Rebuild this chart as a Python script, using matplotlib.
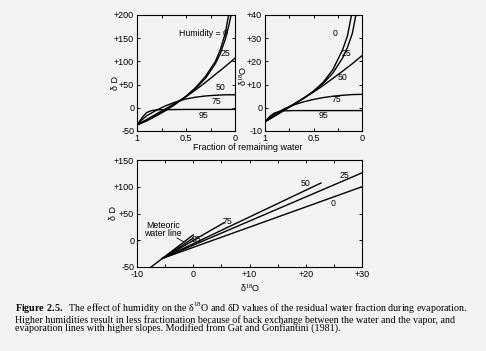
import matplotlib
matplotlib.use('Agg')
import matplotlib.pyplot as plt

# top panels: fraction of remaining water vs delta values, per humidity
f_d0 = [1.0, 0.9, 0.8, 0.7, 0.6, 0.5, 0.4, 0.3, 0.2, 0.15, 0.1, 0.065]
dD_0 = [-37, -28, -17, -5, 9, 25, 44, 68, 100, 125, 160, 200]
f_d25 = [1.0, 0.9, 0.8, 0.7, 0.6, 0.5, 0.4, 0.3, 0.2, 0.15, 0.1, 0.06, 0.04]
dD_25 = [-37, -27, -16, -4, 10, 24, 42, 64, 95, 117, 147, 180, 200]
f_d50 = [1.0, 0.9, 0.8, 0.7, 0.6, 0.5, 0.4, 0.3, 0.2, 0.1, 0.0]
dD_50 = [-37, -25, -13, -1, 11, 24, 39, 55, 72, 89, 107]
f_d75 = [1.0, 0.95, 0.9, 0.8, 0.7, 0.6, 0.5, 0.4, 0.3, 0.2, 0.1, 0.0]
dD_75 = [-37, -26, -17, -5, 5, 13, 19, 23, 25.5, 27, 28, 28]
f_d95 = [1.0, 0.97, 0.94, 0.9, 0.85, 0.8, 0.7, 0.5, 0.0]
dD_95 = [-37, -28, -19, -10, -6, -4.5, -4, -3.5, -3.5]

f_o0 = [1.0, 0.9, 0.8, 0.7, 0.6, 0.5, 0.4, 0.3, 0.2, 0.15, 0.108]
dO_0 = [-6, -3.5, -1, 1.5, 4.2, 7.2, 11, 16.5, 25, 31, 40]
f_o25 = [1.0, 0.9, 0.8, 0.7, 0.6, 0.5, 0.4, 0.3, 0.2, 0.15, 0.1, 0.063]
dO_25 = [-6, -3.5, -1, 1.5, 4.1, 7, 10.5, 15, 21.5, 26, 32, 40]
f_o50 = [1.0, 0.9, 0.8, 0.7, 0.6, 0.5, 0.4, 0.3, 0.2, 0.1, 0.0]
dO_50 = [-6, -3.4, -0.8, 1.7, 4.2, 6.8, 9.6, 12.7, 15.8, 19, 22.5]
f_o75 = [1.0, 0.95, 0.9, 0.8, 0.7, 0.6, 0.5, 0.4, 0.3, 0.2, 0.1, 0.0]
dO_75 = [-6, -4.2, -2.7, -0.4, 1.3, 2.6, 3.6, 4.4, 5, 5.4, 5.7, 5.8]
f_o95 = [1.0, 0.97, 0.94, 0.9, 0.85, 0.8, 0.7, 0.0]
dO_95 = [-6, -4.6, -3.3, -2.2, -1.6, -1.3, -1.2, -1.2]

# bottom panel: evaporation lines (start, end) in d18O / dD
mwl_x = [-7.5, 0]
mwl_y = [-50, 10]
evap_x = {'95': [-5.5, 0], '75': [-5.5, 5.5], '50': [-5.5, 22.7], '25': [-5.5, 30], '0': [-5.5, 30]}
evap_y = {'95': [-34, 4], '75': [-34, 33], '50': [-34, 107], '25': [-34, 126], '0': [-34, 100]}

caption = [
    r'$\mathbf{Figure\ 2.5.}$  The effect of humidity on the δ$^{18}$O and δD values of the residual water fraction during evaporation.',
    'Higher humidities result in less fractionation because of back exchange between the water and the vapor, and',
    'evaporation lines with higher slopes. Modified from Gat and Gonfiantini (1981).',
]

W, H = 486, 351
bg = '#f3f3f3'
plt.rcParams['font.family'] = ['Liberation Sans', 'DejaVu Sans']
plt.rcParams['font.size'] = 6.5
plt.rcParams['mathtext.fontset'] = 'custom'
plt.rcParams['mathtext.rm'] = 'Liberation Serif'
plt.rcParams['mathtext.bf'] = 'Liberation Serif:bold'
fig = plt.figure(figsize=(W / 100, H / 100), dpi=100, facecolor=bg)


def px_axes(l, t, r, b):
    return fig.add_axes([l / W, 1 - b / H, (r - l) / W, (b - t) / H])


def style(ax):
    ax.set_facecolor(bg)
    ax.tick_params(direction='in', length=2.5, width=0.7, top=True, right=True, pad=2, labelsize=6.5)
    for s in ax.spines.values():
        s.set_linewidth(0.8)


lw = 1.0
ax1 = px_axes(137, 15, 235, 131)
for fx, dy in [(f_d0, dD_0), (f_d25, dD_25), (f_d50, dD_50), (f_d75, dD_75), (f_d95, dD_95)]:
    ax1.plot(fx, dy, color='black', lw=lw)
ax1.set_xlim(1, 0)
ax1.set_ylim(-50, 200)
ax1.set_xticks([1, 0.75, 0.5, 0.25, 0])
ax1.set_xticklabels(['1', '', '0.5', '', '0'])
ax1.set_yticks([-50, 0, 50, 100, 150, 200])
ax1.set_yticklabels(['-50', '0', '+50', '+100', '+150', '+200'])
style(ax1)

ax2 = px_axes(265, 15, 362, 131)
for fx, dy in [(f_o0, dO_0), (f_o25, dO_25), (f_o50, dO_50), (f_o75, dO_75), (f_o95, dO_95)]:
    ax2.plot(fx, dy, color='black', lw=lw)
ax2.set_xlim(1, 0)
ax2.set_ylim(-10, 40)
ax2.set_xticks([1, 0.75, 0.5, 0.25, 0])
ax2.set_xticklabels(['1', '', '0.5', '', '0'])
ax2.set_yticks([-10, 0, 10, 20, 30, 40])
ax2.set_yticklabels(['-10', '0', '+10', '+20', '+30', '+40'])
style(ax2)

ax3 = px_axes(137, 160, 362, 267)
ax3.plot(mwl_x, mwl_y, color='black', lw=lw)
for k in evap_x:
    ax3.plot(evap_x[k], evap_y[k], color='black', lw=lw)
ax3.set_xlim(-10, 30)
ax3.set_ylim(-50, 150)
ax3.set_xticks(range(-10, 31, 5))
ax3.set_xticklabels(['-10', '', '0', '', '+10', '', '+20', '', '+30'])
ax3.set_yticks([-50, 0, 50, 100, 150])
ax3.set_yticklabels(['-50', '0', '+50', '+100', '+150'])
style(ax3)


def ftext(x, y, s, **kw):
    fig.text(x / W, 1 - y / H, s, ha='center', va='center', **kw)


# curve labels
fs = 6.3
ftext(203, 34, 'Humidity = 0', fontsize=fs)
ftext(225, 53, '25', fontsize=fs)
ftext(221, 88, '50', fontsize=fs)
ftext(216, 101, '75', fontsize=fs)
ftext(203, 115, '95', fontsize=fs)
ftext(335, 34, '0', fontsize=fs)
ftext(346, 53, '25', fontsize=fs)
ftext(343, 77, '50', fontsize=fs)
ftext(336, 100, '75', fontsize=fs)
ftext(323, 116, '95', fontsize=fs)
ftext(306, 184, '50', fontsize=fs)
ftext(344, 175, '25', fontsize=fs)
ftext(333, 203, '0', fontsize=fs)
ftext(227, 221, '75', fontsize=fs)
ftext(196, 240, '95', fontsize=fs)
ftext(163, 226, 'Meteoric', fontsize=fs)
ftext(163, 234, 'water line', fontsize=fs)
fig.add_artist(plt.Line2D([177 / W, 184 / W], [1 - 238 / H, 1 - 242 / H], color='black', lw=0.6))

# axis labels
ftext(248, 147, 'Fraction of remaining water', fontsize=6.5)
ftext(115, 83, 'δ D', fontsize=6.5, rotation=90)
ftext(243, 76, 'δ$^{18}$O', fontsize=6.5, rotation=90)
ftext(114, 213, 'δ D', fontsize=6.5, rotation=90)
ftext(250, 288, 'δ$^{18}$O', fontsize=6.5)

# caption: first line alone, then the other two as a block (baseline = last line)
cap = dict(fontsize=7.2, family=['Liberation Serif', 'DejaVu Serif'], ha='left')
fig.text(15 / W, 1 - 311.5 / H, caption[0], va='baseline', **cap)
fig.text(15 / W, 1 - 331 / H, '\n'.join(caption[1:]), va='baseline', linespacing=0.82, **cap)

fig.savefig('out.png', dpi=100, facecolor=bg)
